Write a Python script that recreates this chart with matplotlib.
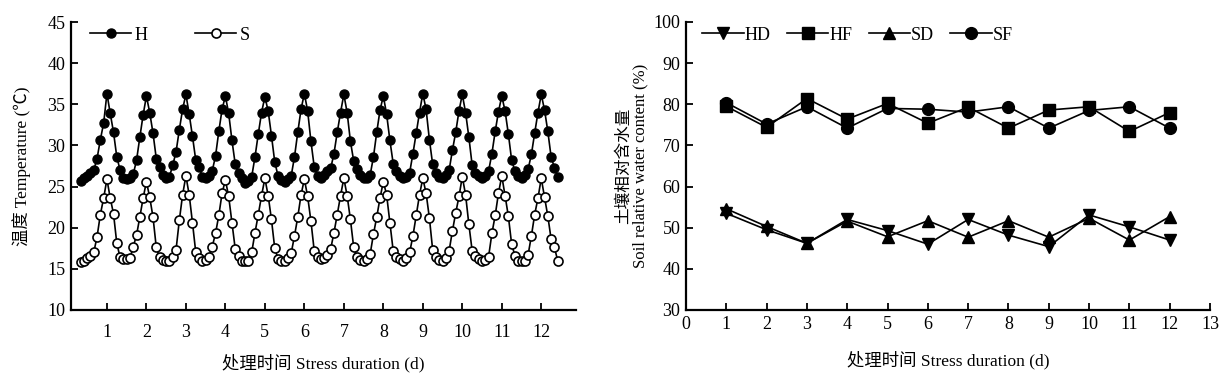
import matplotlib
matplotlib.use("Agg")
import matplotlib.pyplot as plt
import numpy as np

plt.rcParams['font.family'] = ['Liberation Serif', 'Noto Sans CJK SC']
plt.rcParams['font.size'] = 13

# ── left panel: air temperature, 2-hourly readings (12 per day) ───────────────
# first 8 readings come before the day-1 peak
H_TEMP = (
    [25.7, 26.0, 26.3, 26.6, 27.0, 28.4, 30.7, 32.7]
    + [36.3, 33.9, 31.6, 28.6, 27.0, 26.0, 25.9, 26.1, 26.5, 28.2, 31.0, 33.7]
    + [36.0, 34.0, 31.5, 28.4, 27.4, 26.4, 26.0, 26.2, 27.6, 29.2, 31.9, 34.4]
    + [36.2, 33.8, 31.1, 28.2, 27.4, 26.2, 26.1, 26.3, 26.9, 28.7, 31.7, 34.4]
    + [36.0, 33.9, 30.6, 27.7, 26.6, 26.0, 25.4, 25.7, 26.2, 28.6, 31.4, 34.0]
    + [35.9, 34.2, 31.2, 28.0, 26.3, 25.8, 25.5, 25.9, 26.3, 28.6, 31.6, 34.4]
    + [36.3, 34.2, 30.5, 27.4, 26.3, 26.1, 26.4, 26.9, 27.2, 29.0, 31.6, 34.0]
    + [36.2, 34.0, 30.5, 28.1, 27.1, 26.4, 26.1, 26.1, 26.4, 28.6, 31.6, 34.3]
    + [36.0, 33.8, 30.6, 27.8, 26.9, 26.3, 26.0, 26.2, 26.7, 29.0, 31.5, 34.0]
    + [36.3, 34.4, 30.7, 27.7, 26.6, 26.2, 26.0, 26.4, 27.0, 29.4, 31.6, 34.2]
    + [36.2, 34.0, 31.0, 27.6, 26.7, 26.3, 26.1, 26.3, 26.9, 29.0, 31.7, 34.1]
    + [36.0, 34.2, 31.4, 28.2, 26.9, 26.3, 26.1, 26.4, 27.1, 28.9, 31.5, 34.0]
    + [36.2, 34.3, 31.7, 28.6, 27.3, 26.2]
)
S_TEMP = (
    [15.8, 16.0, 16.3, 16.6, 17.0, 18.9, 21.6, 23.6]
    + [25.9, 23.6, 21.7, 18.1, 16.4, 16.2, 16.2, 16.3, 17.7, 19.1, 21.3, 23.6]
    + [25.6, 23.7, 21.3, 17.6, 16.4, 16.1, 15.9, 16.0, 16.4, 17.3, 20.9, 24.0]
    + [26.3, 24.0, 20.6, 17.0, 16.3, 16.0, 16.1, 16.5, 17.7, 19.3, 21.5, 24.2]
    + [25.8, 23.8, 20.6, 17.4, 16.6, 16.0, 15.9, 16.0, 17.0, 19.4, 21.6, 23.9]
    + [26.0, 23.9, 21.0, 17.5, 16.2, 16.0, 16.0, 16.3, 16.9, 19.0, 21.3, 24.0]
    + [25.9, 23.8, 20.8, 17.2, 16.4, 16.2, 16.3, 16.7, 17.4, 19.4, 21.6, 23.9]
    + [26.0, 23.9, 21.0, 17.6, 16.4, 16.1, 16.0, 16.2, 16.8, 19.2, 21.3, 23.6]
    + [25.6, 24.0, 20.6, 17.2, 16.4, 16.2, 16.0, 16.3, 17.0, 19.0, 21.5, 24.0]
    + [26.0, 24.2, 21.2, 17.3, 16.4, 16.1, 15.9, 16.3, 17.2, 19.6, 21.8, 23.8]
    + [26.2, 24.0, 20.4, 17.2, 16.6, 16.2, 16.0, 16.1, 16.5, 19.3, 21.5, 24.2]
    + [26.3, 23.9, 21.4, 18.0, 16.6, 16.0, 15.9, 16.0, 16.7, 19.0, 21.6, 23.6]
    + [26.0, 23.7, 21.4, 18.6, 17.6, 16.0]
)
READS_PER_DAY = 12
PRE_PEAK = 8

# ── right panel: soil relative water content (%) ──────────────────────────────
DAYS = [1, 2, 3, 4, 5, 6, 7, 8, 9, 10, 11, 12]
HD = [53.5, 49.5, 46.2, 52.0, 49.3, 46.0, 52.0, 48.2, 45.4, 53.1, 50.2, 47.0]
HF = [79.5, 74.4, 81.4, 76.4, 80.2, 75.4, 79.3, 74.2, 78.6, 79.4, 73.4, 78.0]
SD = [54.6, 50.3, 46.2, 51.6, 47.8, 51.7, 47.7, 51.7, 47.7, 52.3, 47.0, 52.7]
SF = [80.4, 75.2, 79.4, 74.2, 79.0, 78.8, 78.1, 79.4, 74.2, 78.5, 79.4, 74.2]

XLABEL = "处理时间 Stress duration (d)"

fig = plt.figure(figsize=(12.29, 3.79), dpi=100)
ax1 = fig.add_axes([71 / 1229, 1 - 310 / 379, 505 / 1229, 288 / 379])
ax2 = fig.add_axes([686 / 1229, 1 - 310 / 379, 524 / 1229, 288 / 379])


def style(ax):
    for side in ["top", "right"]:
        ax.spines[side].set_visible(False)
    for side in ["left", "bottom"]:
        ax.spines[side].set_linewidth(1.6)
    ax.tick_params(direction="in", length=5, width=1.3, labelsize=13, pad=4)


# left
t = 1 + (np.arange(len(H_TEMP)) - PRE_PEAK) / READS_PER_DAY
ax1.plot(t, H_TEMP, "-o", color="black", lw=1.2, ms=6.5, mfc="black", label="H")
ax1.plot(t, S_TEMP, "-o", color="black", lw=1.2, ms=6.5, mfc="white", mew=1.2, label="S")
ax1.set_xlim(0.09, 12.88)
ax1.set_ylim(10, 45)
ax1.set_xticks(range(1, 13))
ax1.set_yticks(range(10, 46, 5))
style(ax1)
ax1.tick_params(axis="x", pad=10)
ax1.set_xlabel(XLABEL, fontsize=12.5, labelpad=9)
ax1.set_ylabel("温度 Temperature (℃)", fontsize=12.5, labelpad=12)
ax1.legend(loc="upper left", bbox_to_anchor=(0.005, 1.04), ncol=2, frameon=False,
           handlelength=2.3, handletextpad=0.2, columnspacing=2.6, fontsize=13)

# right
ax2.plot(DAYS, HD, "-v", color="black", lw=1.2, ms=9, label="HD")
ax2.plot(DAYS, HF, "-s", color="black", lw=1.2, ms=8, label="HF")
ax2.plot(DAYS, SD, "-^", color="black", lw=1.2, ms=9, label="SD")
ax2.plot(DAYS, SF, "-o", color="black", lw=1.2, ms=8.5, label="SF")
ax2.set_xlim(0, 13)
ax2.set_ylim(30, 100)
ax2.set_xticks(range(0, 14))
ax2.set_yticks(range(30, 101, 10))
style(ax2)
ax2.set_xlabel(XLABEL, fontsize=12.5, labelpad=13)
ax2.set_ylabel("土壤相对含水量\nSoil relative water content (%)", fontsize=12,
               labelpad=4, linespacing=1.05)
ax2.legend(loc="upper left", bbox_to_anchor=(0.0, 1.04), ncol=4, frameon=False,
           handlelength=2.3, handletextpad=0.05, columnspacing=0.9, fontsize=13)

fig.savefig("out.png", dpi=100)
